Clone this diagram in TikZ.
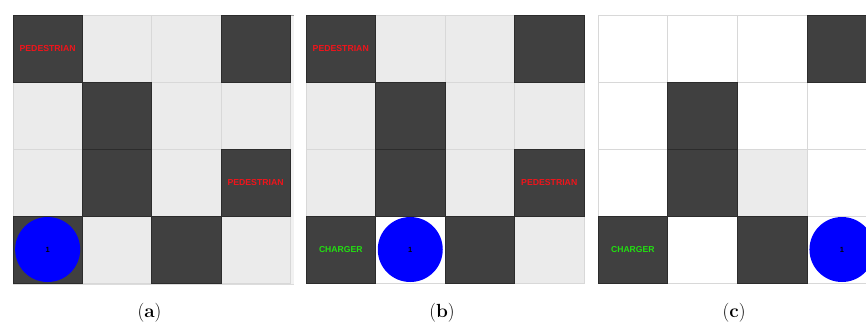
\documentclass[tikz,border=0pt]{standalone}
\usepackage{fontspec}
\newfontfamily\arialfont{Liberation Sans}
\definecolor{darkcell}{HTML}{404040}
\definecolor{darkedge}{HTML}{2C2C2C}
\definecolor{lightcell}{HTML}{EBEBEB}
\definecolor{gridline}{HTML}{D8D8D8}
\definecolor{pedred}{HTML}{F0141B}
\definecolor{chgreen}{HTML}{22E011}
\definecolor{topline}{HTML}{9C9C9C}
\definecolor{botline}{HTML}{DCDCDC}
\tikzset{
  cellbase/.style={minimum height=67pt, inner sep=0pt, outer sep=0pt, anchor=north west, line width=0.8pt},
  cellD/.style={cellbase, draw=darkedge, fill=darkcell},
  cellL/.style={cellbase, draw=gridline, fill=lightcell},
  cellW/.style={cellbase, draw=gridline, fill=white},
  pedlabel/.style={text=pedred, font=\arialfont\bfseries\fontsize{8.7}{10}\selectfont, inner sep=0pt},
  chglabel/.style={text=chgreen, font=\arialfont\bfseries\fontsize{8.6}{10}\selectfont, inner sep=0pt},
  robot/.style={circle, fill=blue, minimum size=65pt, inner sep=0pt, text=black, font=\arialfont\bfseries\fontsize{7.5}{8}\selectfont},
  captionlbl/.style={font=\fontsize{19}{22}\selectfont, inner sep=0pt},
  panelline/.style={draw=topline, line width=0.9pt},
  panelbot/.style={draw=botline, line width=0.9pt}
}
% #1 prefix, #2 left x, #3 cell width, #4 rows
\newcommand\gridpanel[4]{%
  \foreach \rowlist [count=\r] in {#4}{
    \foreach \t [count=\c] in \rowlist {
      \if\t D\else
      \node[cell\t, minimum width=#3pt] (#1-\r-\c) at ({#2+(\c-1)*#3},{15+(\r-1)*67}) {};
      \fi
    }
  }
  \foreach \rowlist [count=\r] in {#4}{
    \foreach \t [count=\c] in \rowlist {
      \if\t D
      \node[cellD, minimum width=#3pt] (#1-\r-\c) at ({#2+(\c-1)*#3},{15+(\r-1)*67}) {};
      \fi
    }
  }
}
\begin{document}
\begin{tikzpicture}[x=1pt,y=-1pt]
\useasboundingbox (0,0) rectangle (866,325);
\clip (0,0) rectangle (866,325);
\fill[white] (0,0) rectangle (866,325);
% panel (a)
\fill[white!95!black] (290,15) rectangle (294,284);
\draw[panelline] (13,15) -- (294,15);
\draw[panelbot] (13,284.5) -- (294,284.5);
\gridpanel{a}{13}{69.3}{{D,L,L,D},{L,D,L,L},{L,D,L,D},{D,L,D,L}}
% panel (b)
\draw[panelline] (306,15) -- (585,15);
\gridpanel{b}{306}{69.5}{{D,L,L,D},{L,D,L,L},{L,D,L,D},{D,W,D,L}}
% panel (c)
\draw[panelline] (598,15) -- (880,15);
\gridpanel{c}{598}{69.7}{{W,W,W,D},{W,D,W,W},{W,D,L,W},{D,W,D,W}}
% labels
\node[pedlabel] (pa1) at (a-1-1) {PEDESTRIAN};
\node[pedlabel] (pa2) at (a-3-4) {PEDESTRIAN};
\node[pedlabel] (pb1) at (b-1-1) {PEDESTRIAN};
\node[pedlabel] (pb2) at (b-3-4) {PEDESTRIAN};
\node[chglabel] (cb) at (b-4-1) {CHARGER};
\node[chglabel] (cc) at (c-4-1) {CHARGER};
% robots
\node[robot] (ra) at (a-4-1) {1};
\node[robot] (rb) at (b-4-2) {1};
\node[robot] (rc) at (c-4-4) {1};
% captions
\node[captionlbl] (capa) at (149.5,313) {(\textbf{a})};
\node[captionlbl] (capb) at (442,313) {(\textbf{b})};
\node[captionlbl] (capc) at (734,313) {(\textbf{c})};
\end{tikzpicture}
\end{document}
